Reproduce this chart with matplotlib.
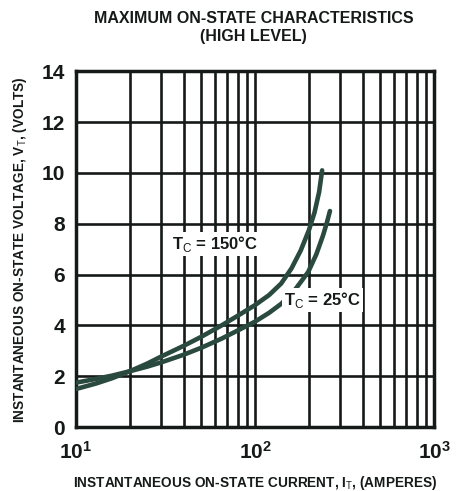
import matplotlib.pyplot as plt
from matplotlib.ticker import FixedLocator, NullFormatter

# Values (current in A, voltage in V)
current_150 = [10, 13, 16, 20, 25, 30, 40, 50, 65, 80, 100, 120, 140, 160, 180, 200, 215, 228, 237]
voltage_150 = [1.5, 1.72, 1.93, 2.2, 2.5, 2.78, 3.2, 3.55, 4.0, 4.38, 4.8, 5.2, 5.65, 6.25, 6.95, 7.75, 8.45, 9.25, 10.1]

current_25 = [10, 13, 16, 20, 25, 30, 40, 50, 65, 80, 100, 120, 140, 165, 198, 220, 240, 252, 262]
voltage_25 = [1.75, 1.9, 2.03, 2.2, 2.38, 2.55, 2.85, 3.12, 3.48, 3.8, 4.15, 4.5, 4.85, 5.35, 6.1, 6.8, 7.55, 8.05, 8.5]

y_ticks = [0, 2, 4, 6, 8, 10, 12, 14]
x_ticks = [10, 100, 1000]
x_tick_labels = ['$\\mathbf{10^1}$', '$\\mathbf{10^2}$', '$\\mathbf{10^3}$']

ink = '#151a18'
curve_col = '#2b4a3f'
plt.rcParams['font.family'] = ['Liberation Sans', 'DejaVu Sans']
plt.rcParams['mathtext.fontset'] = 'custom'
plt.rcParams['mathtext.rm'] = 'Liberation Sans'
plt.rcParams['mathtext.bf'] = 'Liberation Sans:bold'

fig = plt.figure(figsize=(4.57, 4.91), dpi=100)
ax = fig.add_axes([0.166, 0.130, 0.784, 0.725])

ax.set_xscale('log')
ax.set_xlim(10, 1000)
ax.set_ylim(0, 14)

minor = [m * 10 ** d for d in (1, 2) for m in range(2, 10)]
ax.xaxis.set_minor_locator(FixedLocator(minor))
ax.xaxis.set_minor_formatter(NullFormatter())
ax.set_xticks(x_ticks)
ax.set_xticklabels(x_tick_labels)
ax.set_yticks(y_ticks)

ax.grid(True, which='both', axis='x', color=ink, linewidth=1.9)
ax.grid(True, which='major', axis='y', color=ink, linewidth=1.9)
ax.tick_params(which='both', length=0, labelsize=15, colors=ink)
ax.tick_params(axis='x', pad=10)
ax.tick_params(axis='y', pad=8)
for lab in ax.get_yticklabels():
    lab.set_fontweight('bold')
for s in ax.spines.values():
    s.set_linewidth(2.5)
    s.set_color(ink)

ax.plot(current_150, voltage_150, color=curve_col, linewidth=3.3, solid_capstyle='round', zorder=3)
ax.plot(current_25, voltage_25, color=curve_col, linewidth=3.3, solid_capstyle='round', zorder=3)

box = dict(facecolor='white', edgecolor='none', pad=1.5)
ax.text(60, 7.2, 'T$_\\mathrm{C}$ = 150°C', fontsize=12, fontweight='bold', color=ink,
        ha='center', va='center', bbox=box, zorder=4)
ax.text(238, 5.0, 'T$_\\mathrm{C}$ = 25°C', fontsize=12, fontweight='bold', color=ink,
        ha='center', va='center', bbox=box, zorder=4)

fig.text(0.555, 0.962, 'MAXIMUM ON-STATE CHARACTERISTICS', ha='center', va='center',
         fontsize=11.5, fontweight='heavy', color=ink)
fig.text(0.555, 0.926, '(HIGH LEVEL)', ha='center', va='center',
         fontsize=11.5, fontweight='heavy', color=ink)
ax.set_xlabel('INSTANTANEOUS ON-STATE CURRENT, I$_\\mathrm{T}$, (AMPERES)', fontsize=9.8,
              fontweight='bold', color=ink, labelpad=8)
ax.set_ylabel('INSTANTANEOUS ON-STATE VOLTAGE, V$_\\mathrm{T}$, (VOLTS)', fontsize=9.8,
              fontweight='bold', color=ink, labelpad=9)

fig.savefig('out.png', dpi=100)
